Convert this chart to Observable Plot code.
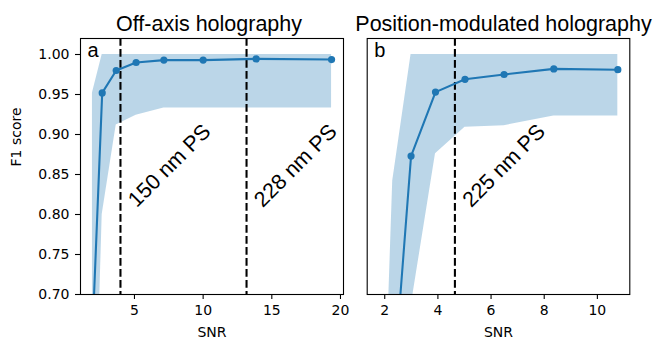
<!DOCTYPE html>
<html><head><meta charset="utf-8">
<script src="https://cdn.jsdelivr.net/npm/d3@7"></script>
<script src="https://cdn.jsdelivr.net/npm/@observablehq/plot@0.6"></script>
<style>
body{margin:0;background:#fff;}
#wrap{position:relative;width:654px;height:340px;overflow:hidden;}
#wrap svg{position:absolute;top:0;overflow:visible;}
</style></head><body><div id="wrap"></div>
<script>
// Panel a: off-axis holography
const snrA = [1.94, 2.65, 3.67, 5.12, 7.14, 10.0, 13.86, 19.35];
const f1A  = [0.65, 0.952, 0.980, 0.990, 0.993, 0.993, 0.9945, 0.9937];
const loA  = [0.39, 0.80, 0.912, 0.924, 0.933, 0.933, 0.933, 0.933];
const hiA  = [0.952, 1.0, 1.0, 1.0, 1.0, 1.0, 1.0, 1.0];
// Panel b: position-modulated holography
const snrB = [1.79, 2.30, 2.99, 3.91, 5.02, 6.49, 8.36, 10.77];
const f1B  = [0.30, 0.575, 0.873, 0.953, 0.969, 0.975, 0.982, 0.981];
const loB  = [0.10, 0.30, 0.685, 0.876, 0.909, 0.911, 0.923, 0.923];
const hiB  = [0.34, 0.842, 1.0, 1.0, 1.0, 1.0, 1.0, 1.0];
// Reference particle-size lines
const psSnrA = [3.98, 13.16];
const psLabelA = ["150 nm PS", "228 nm PS"];
const psSnrB = [4.64];
const psLabelB = ["225 nm PS"];
const psLabelF1 = 0.861;
// Axes
const yDomain = [0.70, 1.02];
const yTicks = [0.70, 0.75, 0.80, 0.85, 0.90, 0.95, 1.00];
const xDomainA = [1.07, 20.22];
const xDomainB = [1.34, 11.22];
const xTicksA = [5, 10, 15, 20];
const xTicksB = [2, 4, 6, 8, 10];

const BLUE = "#1f77b4";
const SANS = "Liberation Sans, Arial, sans-serif";

function panel(o) {
  const rows = o.snr.map((s, i) => ({snr: s, f1: o.f1[i], lo: o.lo[i], hi: o.hi[i]}));
  const psRows = o.ps.map((s, i) => ({snr: s, f1: psLabelF1, label: o.psLabel[i]}));
  const marks = [
    Plot.areaY(rows, {x: "snr", y1: "lo", y2: "hi", fill: BLUE, fillOpacity: 0.3, clip: true}),
    Plot.ruleX(psRows, {x: "snr", stroke: "black", strokeWidth: 2.08, strokeDasharray: "7.7,3.3"}),
    Plot.line(rows, {x: "snr", y: "f1", stroke: BLUE, strokeWidth: 2.08, clip: true}),
    Plot.dot(rows, {x: "snr", y: "f1", fill: BLUE, r: 3.6, clip: true}),
    Plot.text(psRows, {x: "snr", y: "f1", text: "label", rotate: -45, dx: 49, fontSize: 21.5, fontFamily: SANS, fill: "black", textAnchor: "middle", lineAnchor: "middle"}),
    Plot.frame({stroke: "black", strokeWidth: 1.1}),
    Plot.axisX({ticks: o.xTicks, tickSize: 5, tickPadding: 6, label: null, strokeWidth: 1.1, tickFormat: d => String(d)}),
    Plot.text(["SNR"], {frameAnchor: "bottom", dy: 38, fontSize: 14, fill: "black", lineAnchor: "middle"}),
    Plot.text([o.title], {frameAnchor: "top", dy: -14, dx: o.titleDx, fontSize: 21.5, fontFamily: SANS, fill: "black", lineAnchor: "middle"}),
    Plot.text([o.letter], {frameAnchor: "top-left", dx: 7, dy: 11.6, textAnchor: "start", lineAnchor: "middle", fontSize: 20, fontFamily: SANS, fill: "black"})
  ];
  if (o.showY) {
    marks.push(Plot.axisY({ticks: yTicks, tickSize: 5, tickPadding: 6, label: null, strokeWidth: 1.1, tickFormat: d3.format(".2f")}));
    marks.push(Plot.text(["F1 score"], {frameAnchor: "left", dx: -63.5, rotate: -90, fontSize: 14, fill: "black", lineAnchor: "middle"}));
  }
  const svg = Plot.plot({
    width: o.width, height: 340,
    marginLeft: o.ml, marginRight: o.mr, marginTop: 38, marginBottom: 46,
    style: {fontFamily: "DejaVu Sans", fontSize: "14px", color: "black", background: "transparent", overflow: "visible"},
    x: {domain: o.xDomain, axis: null},
    y: {domain: yDomain, axis: null},
    marks
  });
  svg.style.left = o.left + "px";
  return svg;
}

const wrap = document.getElementById("wrap");
wrap.appendChild(panel({snr: snrA, f1: f1A, lo: loA, hi: hiA, xDomain: xDomainA, xTicks: xTicksA,
  ps: psSnrA, psLabel: psLabelA, title: "Off-axis holography", letter: "a", titleDx: -3,
  width: 354, ml: 80, mr: 11, left: 0, showY: true}));
wrap.appendChild(panel({snr: snrB, f1: f1B, lo: loB, hi: hiB, xDomain: xDomainB, xTicks: xTicksB,
  ps: psSnrB, psLabel: psLabelB, title: "Position-modulated holography", letter: "b", titleDx: 5,
  width: 300, ml: 12.7, mr: 24.7, left: 354, showY: false}));
</script></body></html>
